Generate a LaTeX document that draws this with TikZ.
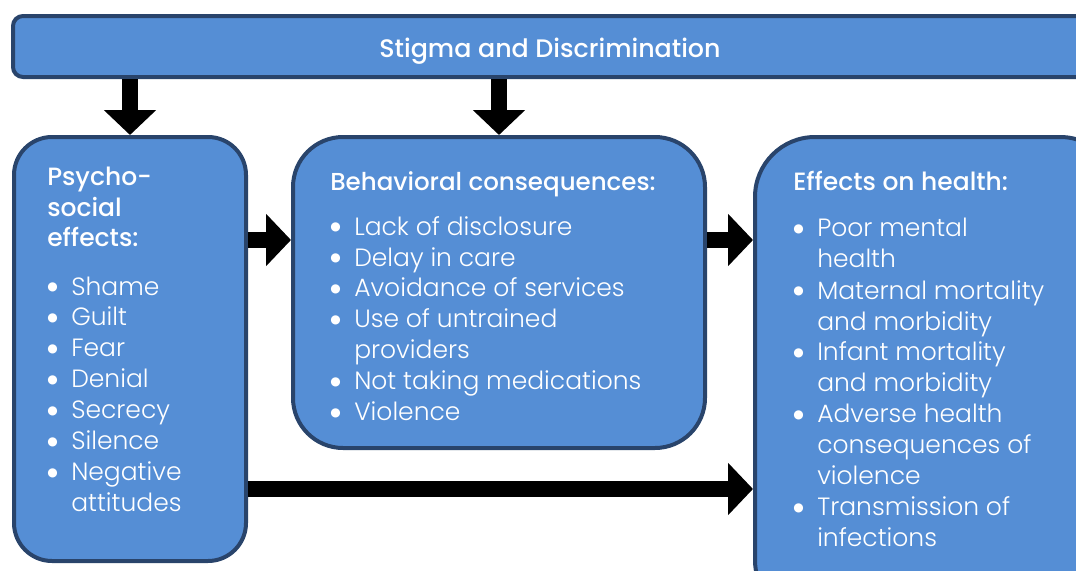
\documentclass[tikz,border=0pt]{standalone}
\usepackage{fontspec}
\setmainfont{Poppins}[UprightFont=* Light, BoldFont=* Medium]
\newfontfamily\symf{DejaVu Sans}
\usetikzlibrary{arrows.meta}
\definecolor{boxfill}{RGB}{85,142,213}
\definecolor{boxline}{RGB}{41,68,107}
\newcommand\bul{\makebox[18pt][l]{\raisebox{3.5pt}{\symf\fontsize{9pt}{10pt}\selectfont ●}}}
\newcommand\cont{\hspace*{18pt}}
\newcommand\bodyfont{\fontsize{18.75pt}{23.25pt}\selectfont}
\tikzset{
  box/.style={draw=boxline, fill=boxfill, line width=3pt, rectangle, inner sep=0pt},
  blockarrow/.style={line width=12pt, draw=black, -{Triangle[length=18.75pt,width=38.25pt]}},
  txt/.style={anchor=base west, inner sep=0pt, text=white, font=\bodyfont}
}
\begin{document}
\begin{tikzpicture}[x=0.75pt,y=-0.75pt]
\useasboundingbox (0,0) rectangle (1076,571);
\clip (0,0) rectangle (1076,571);
% boxes
\node[box, minimum width=815.25pt, minimum height=45.75pt, rounded corners=7.5pt] (bar) at (556.5,46.5) {};
\node[box, minimum width=174pt, minimum height=318pt, rounded corners=28.5pt] (left) at (130,349) {};
\node[box, minimum width=309pt, minimum height=233.25pt, rounded corners=37.5pt] (mid) at (499,292.5) {};
\node[box, minimum width=273.75pt, minimum height=362.25pt, rounded corners=45pt] (right) at (937.5,378.5) {};
% title
\node[anchor=base, inner sep=0pt, text=white, font=\fontsize{19pt}{23pt}\selectfont\bfseries] (title) at (550,57) {Stigma and Discrimination};
% texts
\node[txt] (lefttxt) at (47,185) {\parbox[t]{180pt}{\raggedright
\textbf{Psycho-}\\\textbf{social}\\\textbf{effects:}\\[12.75pt]
\bul Shame\\\bul Guilt\\\bul Fear\\\bul Denial\\\bul Secrecy\\\bul Silence\\\bul Negative\\\cont attitudes}};
\node[txt] (midtxt) at (330,190) {\parbox[t]{300pt}{\raggedright
{\fontsize{18.4pt}{23.25pt}\selectfont\textbf{Behavioral consequences:}}\\[10.5pt]
\bul Lack of disclosure\\\bul Delay in care\\\bul Avoidance of services\\\bul Use of untrained\\\cont providers\\\bul Not taking medications\\\bul Violence}};
\node[txt] (righttxt) at (793,190) {\parbox[t]{220pt}{\raggedright
\textbf{Effects on health:}\\[12pt]
\bul Poor mental\\\cont health\\\bul Maternal mortality\\\cont and morbidity\\\bul Infant mortality\\\cont and morbidity\\\bul Adverse health\\\cont consequences of\\\cont violence\\\bul Transmission of\\\cont infections}};
% arrows
\coordinate (r1) at (0,240);
\coordinate (r2) at (0,489);
\draw[blockarrow] (bar.south -| left.north) -- (left.north);
\draw[blockarrow] (bar.south -| mid.north) -- (mid.north);
\draw[blockarrow] (left.east |- r1) -- (mid.west |- r1);
\draw[blockarrow] (mid.east |- r1) -- (right.west |- r1);
\draw[blockarrow] (left.east |- r2) -- (right.west |- r2);
\end{tikzpicture}
\end{document}
